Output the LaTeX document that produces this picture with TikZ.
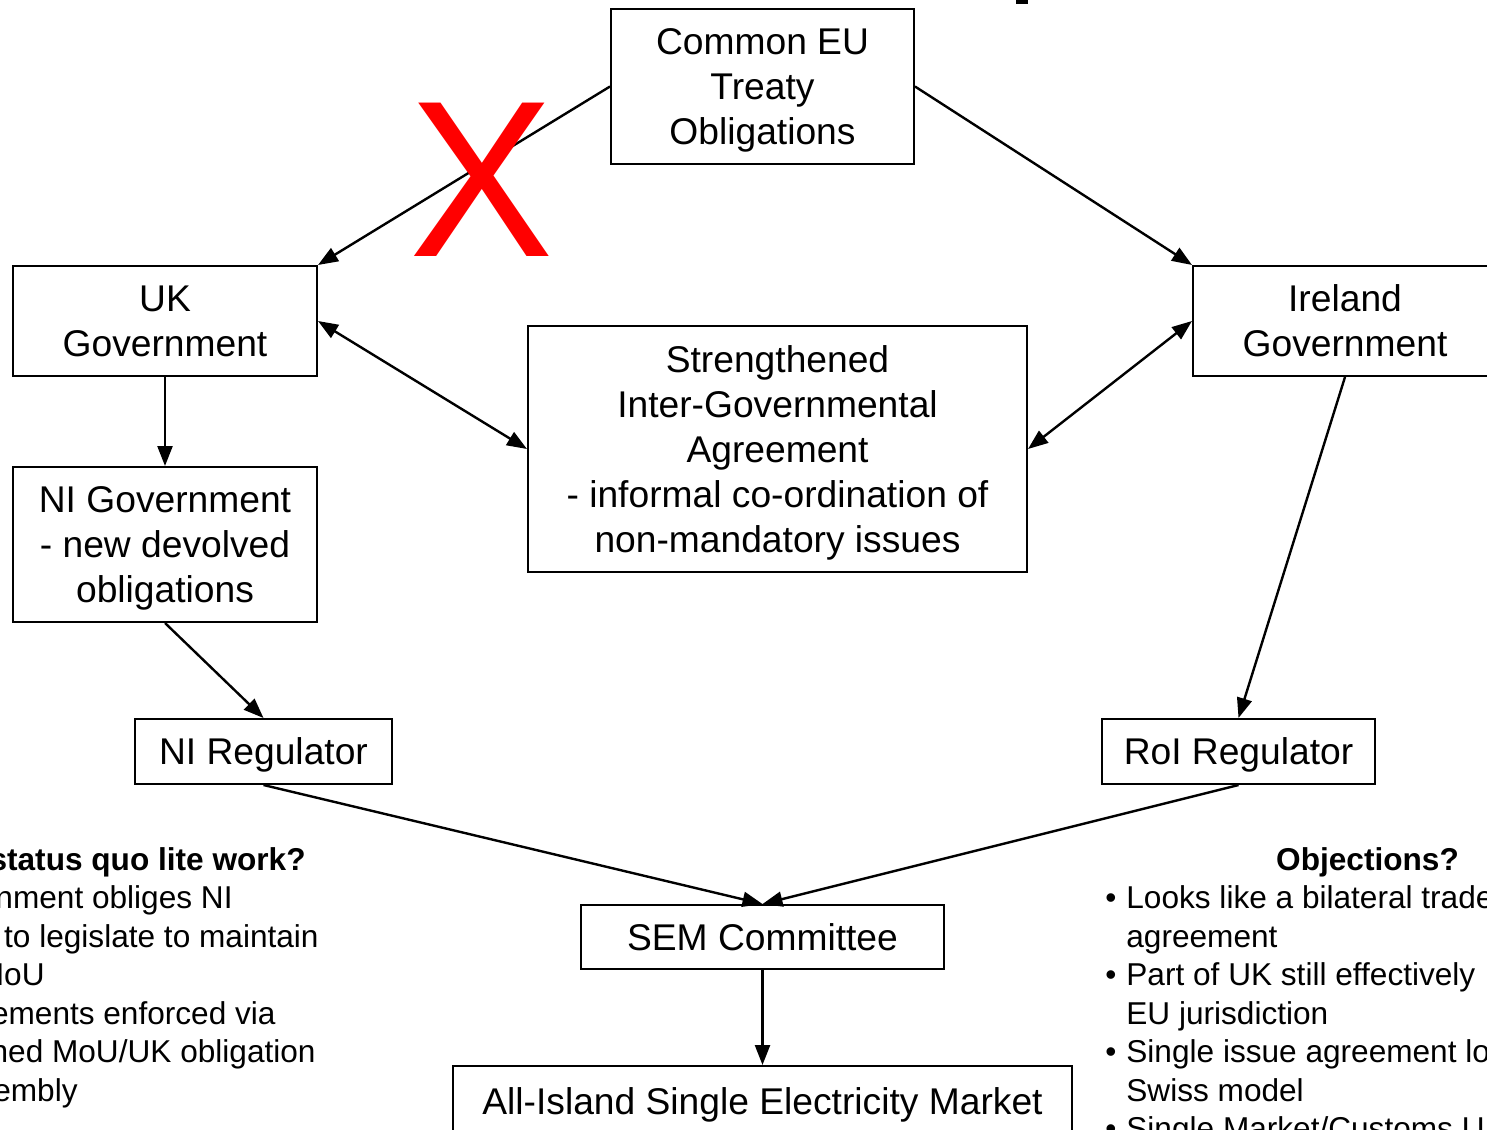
\documentclass[tikz,border=0pt]{standalone}
\usepackage{fontspec}
\setmainfont{Liberation Sans}
\usetikzlibrary{arrows.meta}
\newcommand{\boxfont}{\fontsize{18.6pt}{22.5pt}\selectfont}
\newcommand{\sidefont}{\fontsize{15.8pt}{19.25pt}\selectfont}
\newcommand{\bul}{\makebox[10.5pt][l]{•}}
\newcommand{\tst}{\rule{0pt}{0.92em}}
\newcommand{\bst}{\rule[-0.21em]{0pt}{0pt}}
\begin{document}
\begin{tikzpicture}[x=0.5pt,y=-0.5pt,
  box/.style={draw, line width=1pt, align=center, inner sep=0pt, font=\boxfont},
  arr/.style={line width=1.2pt, -{Triangle[length=10pt,width=7.5pt]}},
  darr/.style={line width=1.2pt, {Triangle[length=10pt,width=7.5pt]}-{Triangle[length=10pt,width=7.5pt]}},
  lt/.style={anchor=base east, inner sep=0pt, font=\sidefont},
  rt/.style={anchor=base west, inner sep=0pt, font=\sidefont}]
\useasboundingbox (0,0) rectangle (1487,1129);
\fill[white] (0,0) rectangle (1487,1129);
\clip (0,0) rectangle (1487,1129);

% boxes
\node[box,minimum width=151.5pt,minimum height=77.5pt] (eu) at (762.5,86.5) {\tst Common EU\\Treaty\\Obligations\bst};
\node[box,minimum width=152pt,minimum height=55pt] (uk) at (165,321) {\tst UK\\Government\bst};
\node[box,minimum width=152pt,minimum height=55pt] (ie) at (1345,321) {\tst Ireland\\Government\bst};
\node[box,minimum width=249.5pt,minimum height=123pt] (sig) at (777.5,449) {\tst Strengthened\\Inter-Governmental\\Agreement\\- informal co-ordination of\\non-mandatory issues\bst};
\node[box,minimum width=152pt,minimum height=77.5pt] (nig) at (165,544.5) {\tst NI Government\\- new devolved\\obligations\bst};
\node[box,minimum width=128.5pt,minimum height=32.5pt] (nir) at (263.5,751.5) {\tst NI Regulator\bst};
\node[box,minimum width=136.5pt,minimum height=32.5pt] (roi) at (1238.5,751.5) {\tst RoI Regulator\bst};
\node[box,minimum width=181.5pt,minimum height=32pt] (sem) at (762.5,937) {\tst SEM Committee\bst};
\node[box,minimum width=309.5pt,minimum height=35pt] (aism) at (762.5,1101) {\tst All-Island Single Electricity Market\bst};

% connectors
\draw[arr] (eu.west) -- (uk.north east);
\draw[arr] (eu.east) -- (ie.north west);
\draw[darr] (uk.east) -- (sig.west);
\draw[darr] (ie.west) -- (sig.east);
\draw[arr] (uk.south) -- (nig.north);
\draw[arr] (nig.south) -- (nir.north);
\draw[arr] (ie.south) -- (roi.north);
\draw[arr] (nir.south) -- (sem.north);
\draw[arr] (roi.south) -- (sem.north);
\draw[arr] (sem.south) -- (aism.north);

% red cross
\node[text=red, font=\fontsize{111.5pt}{111.5pt}\selectfont, inner sep=0pt] (cross) at (481.5,180) {\scalebox{0.97}[1]{X}};

% fragment of a title at top
\fill (1016,0) rectangle (1028,4);

% left text (cut off)
\node[lt] (l1) at (306,870) {\bfseries status quo lite work?};
\node[lt] (l2) at (233,908.5) {nment obliges NI};
\node[lt] (l3) at (319,947) {to legislate to maintain};
\node[lt] (l4) at (45,985.5) {MoU};
\node[lt] (l5) at (276,1024) {ements enforced via};
\node[lt] (l6) at (316,1062.5) {ned MoU/UK obligation};
\node[lt] (l7) at (78,1101) {embly};

% right text (cut off)
\node[anchor=base, inner sep=0pt, font=\sidefont] (r0) at (1367.5,870) {\bfseries Objections?};
\node[rt] (r1) at (1105,908.5) {\bul Looks like a bilateral trade};
\node[rt] (r2) at (1126,947) {agreement};
\node[rt] (r3) at (1105,985.5) {\bul Part of UK still effectively};
\node[rt] (r4) at (1126,1024) {EU jurisdiction};
\node[rt] (r5) at (1105,1062.5) {\bul Single issue agreement lo};
\node[rt] (r6) at (1126,1101) {Swiss model};
\node[rt] (r7) at (1105,1139.5) {\bul Single Market/Customs U};
\end{tikzpicture}
\end{document}
